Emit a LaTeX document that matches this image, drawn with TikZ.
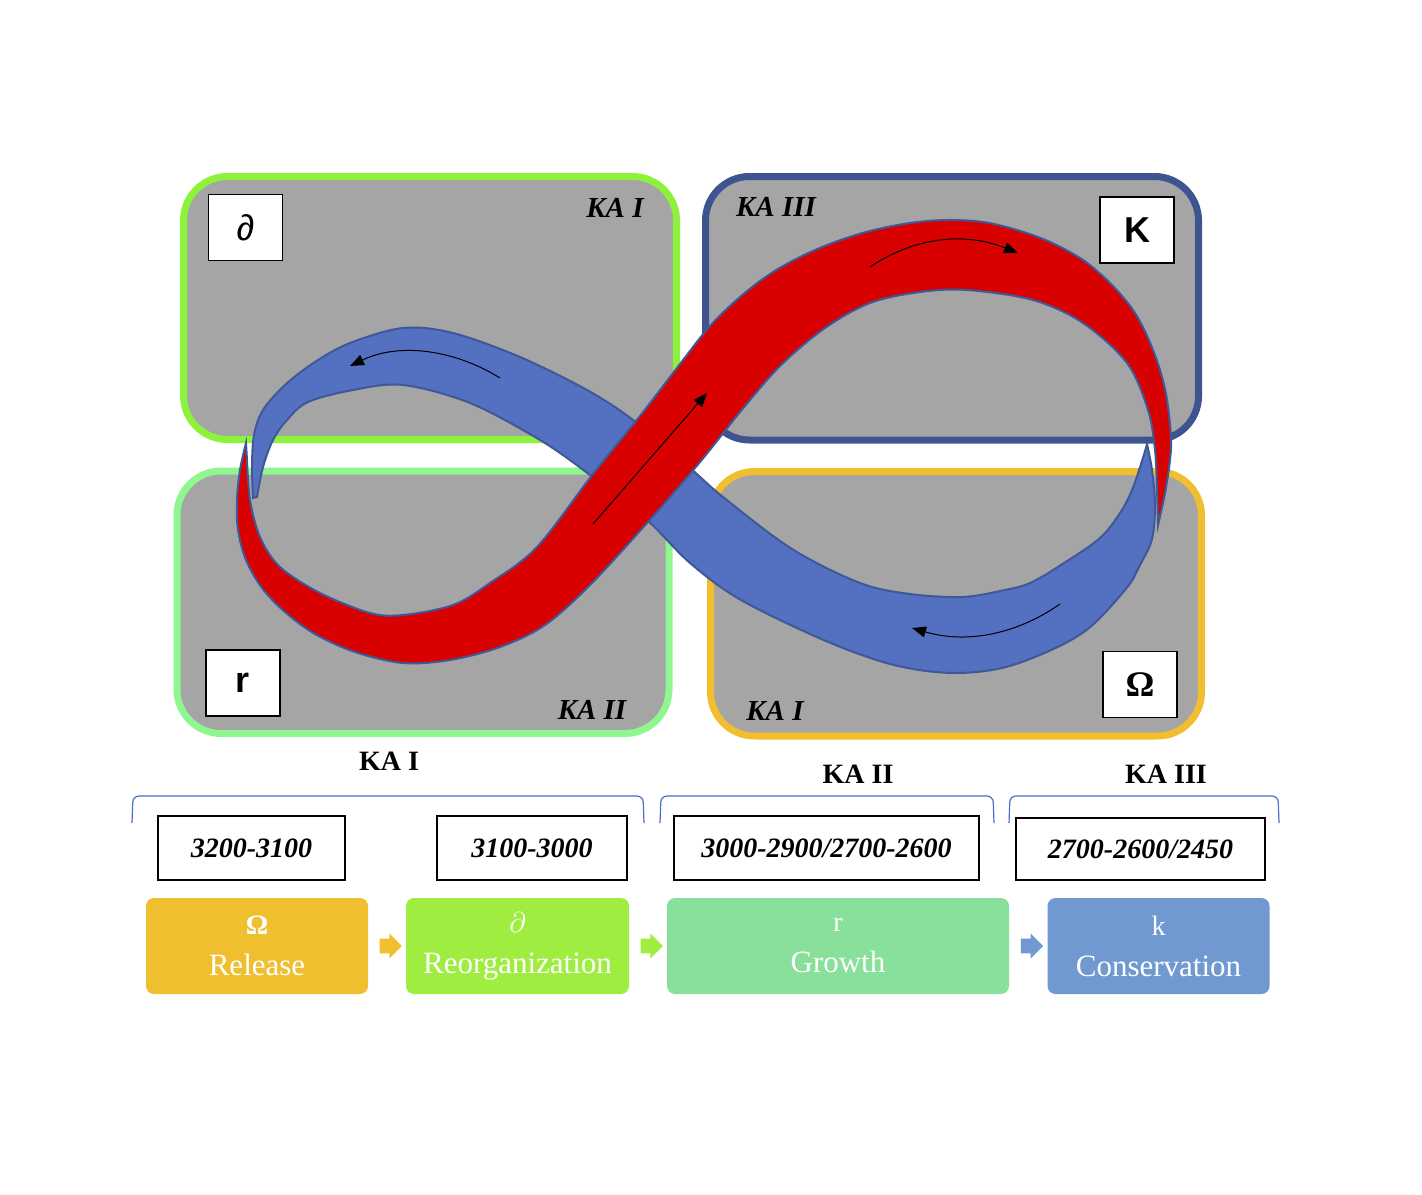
\documentclass[tikz,border=0pt]{standalone}
\usepackage{fontspec}
\setmainfont{Liberation Serif}
\newfontfamily\boxfont{Liberation Sans}
\usetikzlibrary{arrows.meta,positioning,calc,shapes.arrows}

\definecolor{quadgray}{RGB}{165,165,165}
\definecolor{tlgreen}{RGB}{140,242,60}
\definecolor{blgreen}{RGB}{144,247,144}
\definecolor{trnavy}{RGB}{62,84,142}
\definecolor{brgold}{RGB}{240,190,46}
\definecolor{bandred}{RGB}{217,0,0}
\definecolor{bandblue}{RGB}{84,112,192}
\definecolor{bandedge}{RGB}{62,88,152}
\definecolor{braceblue}{RGB}{68,114,196}
\definecolor{relgold}{RGB}{240,191,47}
\definecolor{reogreen}{RGB}{160,237,65}
\definecolor{grogreen}{RGB}{136,224,154}
\definecolor{conblue}{RGB}{112,153,209}

\begin{document}
\begin{tikzpicture}[x=0.5pt, y=-0.5pt,
  quad/.style={line width=3.5pt, fill=quadgray, rounded corners=22pt},
  symbox/.style={draw, line width=0.7pt, fill=white, minimum width=37pt, minimum height=33pt, inner sep=0pt},
  kalabel/.style={font=\fontsize{14.5}{16}\selectfont\bfseries\itshape},
  band/.style={draw=bandedge, line width=1pt},
  flow/.style={-{Triangle[length=7pt,width=5.5pt]}, line width=0.5pt},
  brace/.style={draw=braceblue, line width=0.6pt, rounded corners=3pt},
  datebox/.style={draw, line width=0.6pt, minimum height=32pt, inner sep=0pt, font=\fontsize{14}{16}\selectfont\bfseries\itshape},
  phase/.style={rounded corners=4pt, minimum height=48pt, text=white, align=center, inner sep=0pt, font=\fontsize{15.5}{19}\selectfont},
  gapar/.style={single arrow, minimum height=10pt, inner sep=3.5pt, single arrow head extend=2.5pt, single arrow head indent=0pt}]
  \useasboundingbox (0,0) rectangle (1422,1194);

  % four quadrants
  \draw[quad, draw=tlgreen] (183.5,176.5) rectangle (676.5,439.5);
  \draw[quad, draw=trnavy] (705.5,176.5) rectangle (1198.5,440);
  \draw[quad, draw=blgreen] (177,471) rectangle (669,733.5);
  \draw[quad, draw=brgold] (710.5,471.5) rectangle (1201.5,736);

  \node[symbox, font=\boxfont\fontsize{18}{20}\selectfont] (dsym) at (245.5,227.5) {∂};
  \node[symbox, font=\boxfont\fontsize{18}{20}\selectfont\bfseries] (ksym) at (1137,230) {K};
  \node[symbox, font=\boxfont\fontsize{18}{20}\selectfont\bfseries] (rsym) at (243,683) {r};
  \node[symbox, font=\fontsize{18}{20}\selectfont\bfseries] (osym) at (1140,684.5) {Ω};

  \node[kalabel] (katl) at (615,208) {KA I};
  \node[kalabel] (katr) at (776,207) {KA III};
  \node[kalabel] (kabl) at (592,710) {KA II};
  \node[kalabel] (kabr) at (775,711) {KA I};

  % blue band
  \draw[band, fill=bandblue] plot[smooth, tension=0.55] coordinates {(253,498) (252,467) (254,435) (263,410) (285,385) (315,362) (350,343) (403,328) (453,333) (520,357) (587,390) (633,420) (690,468) (723,497) (792,549) (860,583) (910,594) (962,597) (1000,591) (1030,583) (1064,563) (1100,538) (1120,513) (1132,490) (1142,461) (1147,444)}
    -- plot[smooth, tension=0.55] coordinates {(1147,444) (1152,470) (1155,505) (1152,539) (1140,565) (1125,590) (1081,634) (1013,665) (955,673) (894,665) (826,641) (741,600) (690,563) (647,520) (590,475) (540,440) (470,403) (403,385) (353,390) (308,402) (287,420) (273,440) (263,467) (257,497)} -- cycle;

  % red band
  \draw[band, fill=bandred] plot[smooth, tension=0.55] coordinates {(246,443) (240,470) (237,500) (238,530) (246,560) (262,588) (285,612) (315,634) (355,652) (403,663) (450,660) (500,647) (545,625) (590,585) (647,523) (700,462) (740,412) (780,366) (825,328) (870,303) (920,292) (967,290) (1033,300) (1083,323) (1127,363) (1148,410) (1155,450) (1157,490) (1158,525)}
    -- plot[smooth, tension=0.55] coordinates {(1158,525) (1165,493) (1170,460) (1171,437) (1167,400) (1160,370) (1148,338) (1133,310) (1110,283) (1083,260) (1050,242) (1017,230) (983,222) (947,220) (910,223) (870,231) (835,242) (802,256) (770,274) (740,297) (710,326) (680,364) (640,416) (593,474) (537,547) (490,583) (453,605) (403,615) (370,613) (320,593) (280,567) (260,537) (250,500) (247,460)} -- cycle;

  % direction arrows
  \draw[flow] (500,378) .. controls (455,350) and (400,342) .. (350,366);
  \draw[flow] (593,524) -- (707,393);
  \draw[flow] (870,267) .. controls (910,240) and (960,230) .. (1018,253);
  \draw[flow] (1060,604) .. controls (1020,632) and (970,645) .. (912,628);

  % phases and dates
  \node[font=\fontsize{14}{16}\selectfont\bfseries] (kaone) at (389,761) {KA I};
  \node[font=\fontsize{14}{16}\selectfont\bfseries] (katwo) at (858,774) {KA II};
  \node[font=\fontsize{14}{16}\selectfont\bfseries] (kathree) at (1166,774) {KA III};

  \draw[brace] (132,823) -- (133,796) -- (643,796) -- (644,823);
  \draw[brace] (660,823) -- (661,796) -- (993,796) -- (994,823);
  \draw[brace] (1009,823) -- (1010,796) -- (1278,796) -- (1279,823);

  \node[datebox, minimum width=93.5pt] (d1) at (251.5,848) {3200-3100};
  \node[datebox, minimum width=95pt] (d2) at (532,848) {3100-3000};
  \node[datebox, minimum width=152.5pt] (d3) at (826.5,848) {3000-2900/2700-2600};
  \node[datebox, minimum width=124.5pt, minimum height=31pt] (d4) at (1140.5,849) {2700-2600/2450};

  \node[phase, fill=relgold, minimum width=111pt] (rel) at (257,946) {{\fontsize{14}{16}\selectfont\bfseries Ω}\\[1.5pt]Release};
  \node[phase, fill=reogreen, minimum width=111.5pt] (reo) at (517.5,946) {{\fontsize{14}{16}\selectfont$\partial$}\\[1.5pt]Reorganization};
  \node[phase, fill=grogreen, minimum width=171pt] (gro) at (838,946) {{\fontsize{14}{16}\selectfont r}\\[1.5pt]Growth};
  \node[phase, fill=conblue, minimum width=111pt] (con) at (1158.5,946) {{\fontsize{14}{16}\selectfont k}\\[1.5pt]Conservation};

  \node[gapar, fill=relgold] (ar1) at ($(rel.east)!0.5!(reo.west)$) {};
  \node[gapar, fill=reogreen] (ar2) at ($(reo.east)!0.5!(gro.west)$) {};
  \node[gapar, fill=conblue] (ar3) at ($(gro.east)!0.5!(con.west)$) {};
\end{tikzpicture}
\end{document}
